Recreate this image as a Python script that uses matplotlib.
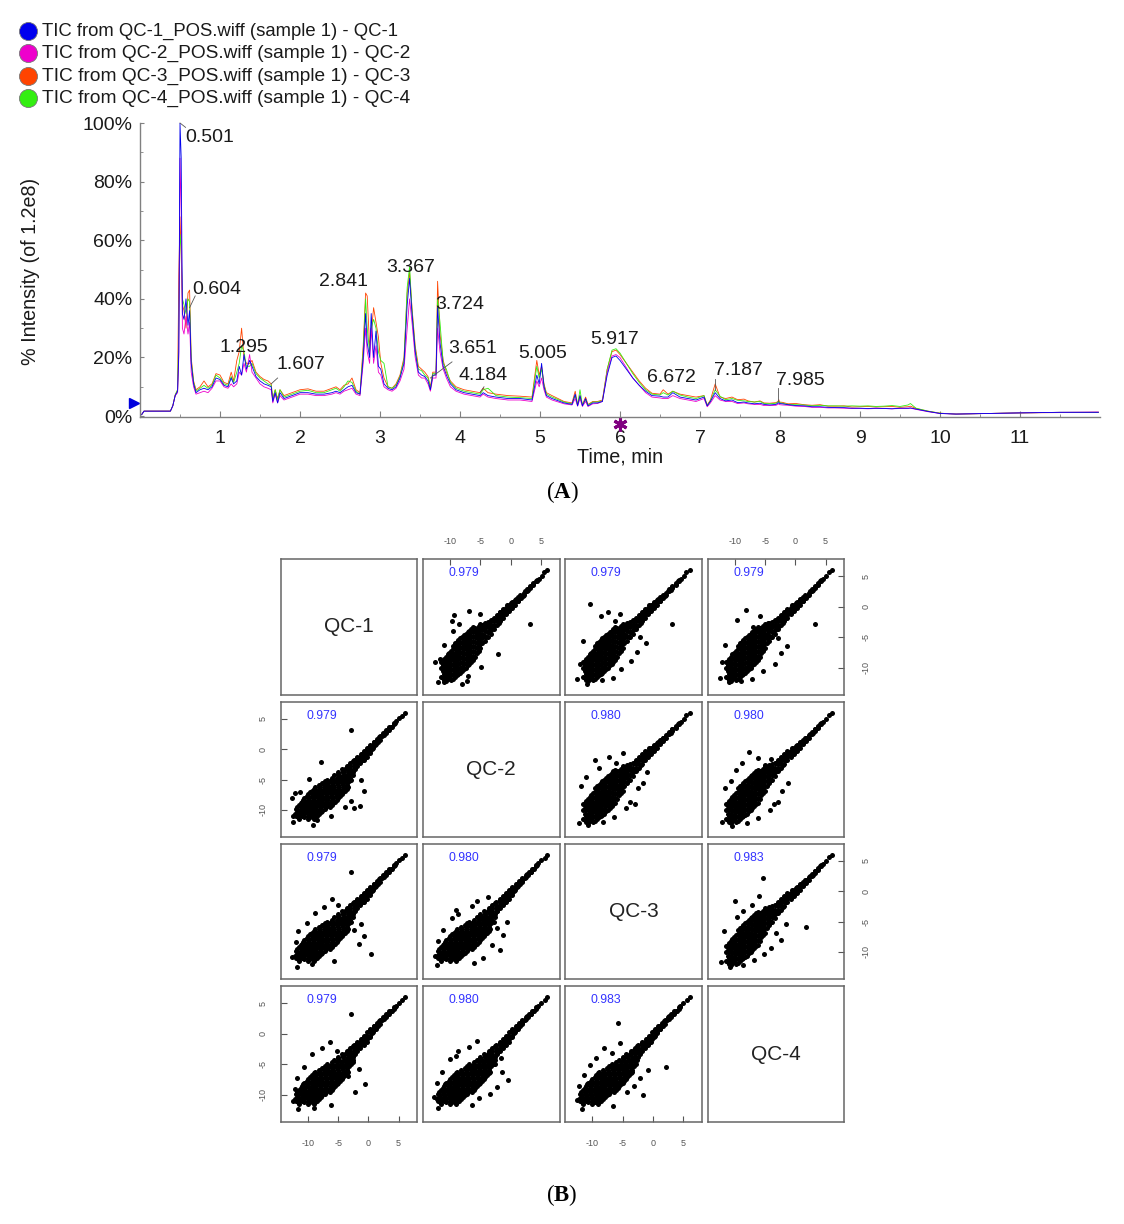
import matplotlib
matplotlib.use("Agg")
import matplotlib.pyplot as plt

plt.rcParams['font.family'] = ['Liberation Sans', 'DejaVu Sans']
plt.rcParams['mathtext.fontset'] = 'custom'
plt.rcParams['mathtext.bf'] = 'Liberation Serif:bold'
plt.rcParams['mathtext.rm'] = 'Liberation Serif'
plt.rcParams['axes.unicode_minus'] = False

W, H = 1124, 1224

# ---------- Panel A data ----------
legend_labels = ['TIC from QC-1_POS.wiff (sample 1) - QC-1',
                 'TIC from QC-2_POS.wiff (sample 1) - QC-2',
                 'TIC from QC-3_POS.wiff (sample 1) - QC-3',
                 'TIC from QC-4_POS.wiff (sample 1) - QC-4']
legend_sizes = [13.3, 13.8, 13.8, 13.8]
series_colors = ['#0000ee', '#ee00cc', '#ff4400', '#33ee11']

time_min = [0.02,0.05,0.38,0.41,0.44,0.47,0.485,0.50,0.515,0.53,
            0.55,0.575,0.60,0.62,0.64,0.67,0.70,0.75,0.80,0.85,
            0.90,0.95,1.00,1.05,1.10,1.14,1.17,1.21,1.24,1.27,
            1.30,1.33,1.37,1.40,1.45,1.50,1.55,1.60,1.64,1.66,
            1.69,1.72,1.75,1.80,1.90,2.00,2.10,2.20,2.30,2.40,
            2.45,2.50,2.55,2.60,2.65,2.70,2.75,2.79,2.82,2.84,
            2.87,2.89,2.92,2.95,2.98,3.01,3.05,3.10,3.15,3.20,
            3.25,3.30,3.34,3.37,3.40,3.44,3.48,3.52,3.56,3.60,
            3.63,3.66,3.70,3.72,3.75,3.79,3.83,3.88,3.95,4.05,
            4.15,4.25,4.29,4.35,4.45,4.60,4.75,4.90,4.96,4.99,
            5.02,5.05,5.08,5.15,5.30,5.40,5.44,5.47,5.50,5.53,
            5.57,5.60,5.66,5.72,5.78,5.84,5.90,5.95,6.00,6.08,
            6.16,6.24,6.32,6.40,6.50,6.54,6.60,6.66,6.75,6.85,
            6.95,7.05,7.09,7.13,7.19,7.25,7.32,7.40,7.47,7.55,
            7.60,7.68,7.75,7.80,7.87,7.95,7.975,7.985,7.995,8.03,
            8.1,8.2,8.3,8.4,8.5,8.6,8.7,8.8,8.9,9.0,
            9.1,9.2,9.3,9.4,9.5,9.6,9.63,9.7,9.85,10.0,
            10.2,10.6,11.0,11.5,11.98]

qc1 = [0.5,1.7,1.7,3.5,7.0,8.5,22,100,88,35,
       33,40,31,36,18,11,8,9,9.5,9,
       10,13,12.5,10.5,10,13,11,12,17,14,
       21,16,19,17,13.5,12,11,10.5,10,5,
       8,4.5,8,6,7,8,8,7.5,7.5,8,
       8.5,8,9,10,10.5,8,7.5,20,35,25,
       20,35,20,29,17,16,11,9.5,9,10,
       13,18,38,47,35,22,15,14,13.5,12,
       9,14,14,37,25,17,14,11,9,8,
       7.5,7,8,7,6.5,6,6,5.5,14,11,
       18,10,7,6,4.5,4,7.5,3.5,7,3.5,
       6,3.5,4.5,4.5,5,14,20,20.5,19,16,
       13,10.5,8.5,7,6.8,6.5,6.5,8,6.5,6,
       5.5,6.5,3.5,5,8,6,5.2,5.5,4.6,4.8,
       4.5,4.2,4.4,4,3.8,4,4.5,4.6,4.3,4.2,
       3.9,3.6,3.5,3.2,3.2,3,2.9,2.9,2.7,2.7,
       2.6,2.7,2.6,2.5,2.7,2.7,2.8,2.4,1.6,0.9,
       0.7,0.9,1.1,1.3,1.3]
qc2 = [0.5,1.7,1.7,3.5,7.0,8.0,20,88,70,30,
       28,34,28,32,15,10,7.5,8,8.5,8,
       9.5,12,12,10,9.5,11,10,11,15,14,
       18,15,21,15,13,11,10,9.5,9,4.5,
       7.5,4.5,7,5.5,6.5,7.5,7.5,7,7,7.5,
       8,7.5,8.5,9,9.5,7.5,7,18,30,22,
       18,30,18,24,15,14,10,9,8.5,9.5,
       12,16,30,40,32,20,14,13,13,11,
       8.5,13,13,30,22,16,13,10,8.5,7.5,
       7,6.5,7.5,6.5,6,5.5,5.5,5,12,10,
       13,9,6.5,5.5,4.2,3.8,6,3.4,6,3.3,
       5,3.3,4.2,4.3,5,15,20.5,21,20,16.5,
       13,10.5,8,6.5,6.2,6,6,7,6,5.5,
       5,6,3.2,4.5,7,5.5,5,5,4.3,4.5,
       4.2,4,4,3.6,3.6,3.7,4,4.3,3.9,3.8,
       3.7,3.4,3.3,3,3,2.8,2.8,2.7,2.6,2.6,
       2.5,2.6,2.6,2.5,2.6,2.6,2.7,2.3,1.5,0.9,
       0.7,0.9,1.1,1.3,1.4]
qc3 = [0.5,1.7,1.7,3.5,7.2,9.0,48,68,55,38,
       36,30,42,43,20,12,9,10,12,10,
       11,14.5,14,11.5,11,15,12,19,22,30,
       20,18,18,19,15,13.5,12.5,12,11,6,
       9,6,9,7,8,9,9.3,8.5,8.5,9.5,
       10,9,10.5,11,13,9,8,24,42,41,
       24,28,37,32,27,18,13,10,9.5,11,
       14,20,42,49,37,24,17,16,15,13.5,
       10,15,15,46,28,19,15,12,10,9,
       8.5,8,9.5,8,7.5,7,6.8,6.5,19,14,
       17,11,8,7,5,4.5,8.5,4,7,4,
       6.5,4,5,5,5.5,16,22,22.5,21,18,
       15,12,9.5,7.8,7.5,9,7.5,8.5,7.5,7,
       6.5,7,3.8,5.5,11,6.5,6,6.5,5.6,5.8,
       5.2,4.8,5.2,4.5,4.4,4.6,5,5.6,4.8,4.7,
       4.2,4.3,3.9,3.7,3.9,3.4,3.4,3.5,3.1,3.2,
       3.3,3.1,3.2,3.3,3.0,3.2,3.4,2.6,1.7,1,
       0.7,0.9,1.1,1.2,1.3]
qc4 = [0.5,1.7,1.7,3.6,7.2,9.0,30,62,58,40,
       38,35,40,39,19,11.5,8.5,9.5,10.5,9.5,
       10.5,14,13,11,10.5,13.5,11.5,15,18,24,
       22,17,17,18,14.5,13,12,11,10.5,5.5,
       9,5.5,9,6.5,7.5,8.5,8.8,8,8,9,
       9.5,8.5,10,12,11.5,8.5,7.5,22,40,30,
       22,30,33,30,22,19,18,10,9.5,10.5,
       13.5,19,44,51,36,23,16,15.5,14,13,
       9.5,14.5,14.5,40,32,18,16,11.5,9.5,8.5,
       8,7.5,9,9.5,7,6.5,6.3,6,17,13,
       16,10.5,7.5,6.5,4.8,4.2,7,3.8,9,3.8,
       5.5,3.8,4.8,4.8,5.2,16,22.5,23,21.5,18,
       14.5,11.5,9,7.5,7.2,8,7.2,8.5,7.2,6.5,
       6,7,3.6,5.2,9,6.8,5.6,6,5.4,5.2,
       5,4.8,5,4.3,4.2,4.4,4.8,5,4.6,4.4,
       4,3.9,3.8,3.5,3.7,3.5,3.5,3.4,3.5,3.4,
       3.5,3.3,3.4,3.6,3.3,3.8,4.3,2.7,1.7,1,
       0.7,0.9,1.1,1.3,1.3]

peak_labels = ['0.501','0.604','1.295','1.607','2.841','3.367','3.724',
               '3.651','4.184','5.005','5.917','6.672','7.187','7.985']
peak_text_x = [0.56,0.65,0.99,1.70,2.24,3.08,3.69,3.85,3.98,4.73,5.63,6.34,7.18,7.95]
peak_text_y = [95,43.3,23.5,17.7,46,50.8,38,22.9,14,21.5,26,13.3,15.7,12.3]

leader_x0 = [0.50,0.62,1.64,3.63,4.25,7.19,7.98]
leader_y0 = [100,37,11,13,8,9,5]
leader_x1 = [0.57,0.69,1.72,3.90,4.30,7.19,7.98]
leader_y1 = [98.5,41,13,18.5,10,12.5,9.5]

# ---------- Panel B data ----------
qc_names = ['QC-1','QC-2','QC-3','QC-4']
corr = [[None,'0.979','0.979','0.979'],
        ['0.979',None,'0.980','0.980'],
        ['0.979','0.980',None,'0.983'],
        ['0.979','0.980','0.983',None]]
pair_ticks = [-10,-5,0,5]

ridge_a = [6.0,5.5,5.1,4.6,4.1,3.7,3.2,2.9,2.4,2.0,1.6,1.2,0.8,0.5,0.1,-0.3,-0.6,-0.8,-1.2,
           -1.5,-1.7,-2.1,-2.0,-2.6,-2.7,-3.2,-3.2,-3.8,-3.7,-4.2,-4.0,-4.7,-4.6]
ridge_b = [6.0,5.6,5.0,4.5,4.2,3.7,3.4,2.7,2.6,1.8,1.9,1.0,1.2,0.2,0.6,-0.4,0.2,-1.0,-0.5,
           -1.8,-0.9,-1.5,-2.6,-2.0,-3.2,-2.3,-3.6,-2.9,-4.2,-3.5,-5.0,-3.7,-4.6]

blob_a = [-11.5,-11.5,-11.5,
          -11,-11,-11,-11,-11,
          -10.4,-10.4,-10.4,-10.4,-10.4,-10.4,
          -9.8,-9.8,-9.8,-9.8,-9.8,-9.8,-9.8,
          -9.2,-9.2,-9.2,-9.2,-9.2,-9.2,-9.2,-9.2,
          -8.6,-8.6,-8.6,-8.6,-8.6,-8.6,-8.6,-8.6,
          -8,-8,-8,-8,-8,-8,-8,-8,
          -7.4,-7.4,-7.4,-7.4,-7.4,-7.4,-7.4,-7.4,
          -6.8,-6.8,-6.8,-6.8,-6.8,-6.8,-6.8,-6.8,
          -6.2,-6.2,-6.2,-6.2,-6.2,-6.2,-6.2,-6.2,
          -5.6,-5.6,-5.6,-5.6,-5.6,-5.6,
          -5,-5,-5,-5,-5,-5]
blob_b = [-11.5,-10,-9,
          -12,-11,-10,-9.3,-8.5,
          -11.8,-11,-10.2,-9.4,-8.6,-7.8,
          -12,-11.2,-10.4,-9.6,-8.8,-8,-7.2,
          -11.5,-10.7,-9.9,-9.1,-8.3,-7.5,-6.7,-6,
          -11,-10.2,-9.4,-8.6,-7.8,-7,-6.2,-5.5,
          -10.6,-9.8,-9,-8.2,-7.4,-6.6,-5.8,-5,
          -10,-9.2,-8.4,-7.6,-6.8,-6,-5.2,-4.4,
          -9.4,-8.6,-7.8,-7,-6.2,-5.4,-4.6,-3.9,
          -8.8,-8,-7.2,-6.4,-5.6,-4.8,-4,-3.4,
          -7.6,-6.8,-6,-5.2,-4.4,-3.6,
          -6.8,-6,-5.2,-4.4,-3.6,-2.8]

fill_a = [-11.2,-11.2,-11.2,-11.2,
          -10.7,-10.7,-10.7,-10.7,-10.7,-10.7,
          -10.1,-10.1,-10.1,-10.1,-10.1,-10.1,
          -9.5,-9.5,-9.5,-9.5,-9.5,-9.5,-9.5,-9.5,
          -8.9,-8.9,-8.9,-8.9,-8.9,-8.9,-8.9,-8.9,
          -8.3,-8.3,-8.3,-8.3,-8.3,-8.3,-8.3,-8.3,
          -7.7,-7.7,-7.7,-7.7,-7.7,-7.7,-7.7,-7.7,
          -7.1,-7.1,-7.1,-7.1,-7.1,-7.1,-7.1,-7.1,
          -6.5,-6.5,-6.5,-6.5,-6.5,-6.5,-6.5,-6.5,
          -5.9,-5.9,-5.9,-5.9,-5.9,-5.9,-5.9,
          -5.3,-5.3,-5.3,-5.3,-5.3,-5.3,
          -4.7,-4.7,-4.7,-4.7,-4.7,
          -4.3,-4.3,-4.3,-4.3,-4.3,
          -3.8,-3.8,-3.8,-3.8,
          -3.3,-3.3,-3.3,-3.3,
          -2.8,-2.8,-2.8,-2.8,
          -2.3,-2.3,-2.3,-2.3,
          -1.8,-1.8,-1.8,-1.8,
          -1.3,-1.3,-1.3,-1.3,
          -0.8,-0.8,-0.8,
          -0.3,-0.3,-0.3,
          0.2,0.2,0.2,
          0.7,0.7,0.7,
          1.2,1.2,1.2,
          1.7,1.7,2.2,2.2,2.7,2.7,3.2,3.2,3.7,3.7,4.3,4.3]
fill_b = [-11.6,-10.6,-9.6,-8.9,
          -12.2,-11.4,-10.6,-9.8,-9,-8.2,
          -11.6,-10.8,-10,-9.2,-8.4,-7.6,
          -11.8,-11,-10.2,-9.4,-8.6,-7.8,-7,-6.4,
          -11.2,-10.4,-9.6,-8.8,-8,-7.2,-6.4,-5.8,
          -10.8,-10,-9.2,-8.4,-7.6,-6.8,-6,-5.2,
          -10.2,-9.4,-8.6,-7.8,-7,-6.2,-5.4,-4.7,
          -9.6,-8.8,-8,-7.2,-6.4,-5.6,-4.8,-4.2,
          -9,-8.2,-7.4,-6.6,-5.8,-5,-4.2,-3.6,
          -8.2,-7.4,-6.6,-5.8,-5,-4.2,-3.5,
          -7.2,-6.4,-5.6,-4.8,-4,-3.2,
          -6,-5.2,-4.4,-3.6,-3,
          -5.6,-4.8,-4,-3.2,-2.6,
          -5,-4.2,-3.4,-2.5,
          -4.4,-3.8,-3,-2.2,
          -3.6,-3,-2.4,-1.8,
          -3,-2.4,-1.8,-1.3,
          -2.4,-1.8,-1.2,-0.8,
          -1.8,-1.3,-0.8,-0.3,
          -1.2,-0.7,-0.2,
          -0.7,-0.2,0.3,
          -0.2,0.2,0.7,
          0.3,0.7,1.1,
          0.9,1.3,1.6,
          1.4,1.8,1.9,2.3,2.5,2.9,3.0,3.3,3.5,3.9,4.2,4.4]

# outliers: a = column variable in the upper panel, b = row variable
out_12_a = [-9.3,-9.7,-8.45,-9.45,-6.85,-5.05,3.18,-10.95,-2.05,-4.9,-7,-7.2,-8,-10.95,-12,-12.45,-11.65]
out_12_b = [-1.4,-2.4,-2.9,-3.9,-0.77,-1.15,-2.85,-6.25,-7.75,-9.8,-11.3,-12.2,-12.7,-12.4,-12.4,-9.1,-8.5]
out_13_a = [-10.3,-8.6,-7.4,-6.3,-5.4,3.2,-11.5,-2.6,-3.6,-5.2,-6.6,-8.4,-10.8,-12.4,-12.0,-1.2,-2.2]
out_13_b = [0.4,-1.6,-0.8,-2.4,-1.2,-2.9,-5.6,-7.4,-8.9,-10.2,-11.6,-12.0,-12.6,-11.8,-9.4,-6.0,-5.0]
out_14_a = [-9.6,-8.2,-7.0,-5.8,-4.6,3.2,-11.6,-2.4,-3.4,-5.4,-7.2,-9.0,-11.0,-12.4,-12.2,-1.4,-2.8]
out_14_b = [-2.2,-0.6,-3.4,-1.6,-2.6,-2.9,-6.2,-7.6,-9.4,-10.6,-11.8,-12.2,-12.4,-11.6,-9.0,-6.4,-5.2]
out_23_a = [-9.6,-8.8,-7.2,-6.0,-2.4,-1.6,-11.8,-3.8,-4.4,-6.4,-8.2,-10.6,-12.2,-3.0,-1.0,-11.0,-5.0]
out_23_b = [-1.8,-3.0,-1.2,-2.2,-6.4,-5.6,-6.0,-8.6,-9.6,-11.2,-12.0,-12.4,-12.2,-9.0,-3.8,-4.6,-0.6]
out_24_a = [-8.8,-7.6,-6.2,-5.0,-2.2,-1.2,-11.6,-3.6,-4.2,-6.2,-8.0,-10.4,-12.2,-2.8,-9.8,-10.6,-4.0]
out_24_b = [-2.2,-0.4,-1.4,-2.6,-6.8,-5.6,-6.4,-9.0,-10.0,-11.4,-12.2,-12.6,-12.0,-8.6,-3.4,-5.2,-1.6]
out_34_a = [-10.0,-8.6,-7.2,-5.4,-3.2,-1.6,-11.8,-4.0,-5.2,-6.8,-8.6,-10.8,-12.3,-2.4,1.8,-9.6,-6.0]
out_34_b = [-1.6,-3.2,-2.2,2.2,-6.8,-5.4,-6.6,-9.4,-10.4,-11.4,-12.2,-12.4,-11.6,-8.0,-5.8,-4.2,-0.8]
outliers = {(0,1):(out_12_a,out_12_b),(0,2):(out_13_a,out_13_b),(0,3):(out_14_a,out_14_b),
            (1,2):(out_23_a,out_23_b),(1,3):(out_24_a,out_24_b),(2,3):(out_34_a,out_34_b)}

# ---------- helpers ----------
def axes_px(fig, x0, y0, x1, y1, **kw):
    return fig.add_axes([x0/W, 1-y1/H, (x1-x0)/W, (y1-y0)/H], **kw)

fig = plt.figure(figsize=(W/100, H/100), dpi=100, facecolor='white')

# ---------- Panel A ----------
ax = axes_px(fig, 140, 123, 1100, 417)
ax.set_xlim(0, 12)
ax.set_ylim(-0.3, 100)
for values, color in zip([qc3, qc4, qc2, qc1], [series_colors[i] for i in (2,3,1,0)]):
    ax.plot(time_min, values, color=color, lw=0.6, solid_joinstyle='round')
for sp in ('top','right'):
    ax.spines[sp].set_visible(False)
for sp in ('left','bottom'):
    ax.spines[sp].set_color('#808080')
    ax.spines[sp].set_linewidth(1.0)
ax.set_xticks(range(1,12))
ax.set_xticks([v+0.5 for v in range(0,12)], minor=True)
ax.set_yticks([0,20,40,60,80,100])
ax.set_yticklabels(['0%','20%','40%','60%','80%','100%'])
ax.set_yticks([10,30,50,70,90], minor=True)
ax.tick_params(axis='x', which='major', direction='in', length=4, color='#808080',
               labelsize=14, pad=9.5, labelcolor='#1a1a1a')
ax.tick_params(axis='x', which='minor', direction='in', length=2, color='#808080')
ax.tick_params(axis='y', which='major', direction='in', length=3, color='#808080',
               labelsize=14, pad=5.5, labelcolor='#1a1a1a')
ax.tick_params(axis='y', which='minor', direction='in', length=2, color='#808080')
for lx0, ly0, lx1, ly1 in zip(leader_x0, leader_y0, leader_x1, leader_y1):
    ax.plot([lx0, lx1], [ly0, ly1], color='#555555', lw=0.6, clip_on=False)
for s, tx, ty in zip(peak_labels, peak_text_x, peak_text_y):
    ax.text(tx, ty, s, fontsize=14, color='#1a1a1a', va='center', ha='left')
ax.plot([-0.07], [4.5], marker='>', color='#0000dd', ms=7, clip_on=False)
ax.plot([6.0], [-2.8], marker=(6, 2, 0), color='#800080', ms=10, mew=2.2, clip_on=False)

# overlay in pixel units for legend and figure-level text
ov = axes_px(fig, 0, 0, W, H)
ov.set_xlim(0, W); ov.set_ylim(H, 0); ov.axis('off'); ov.patch.set_alpha(0)
legend_y = [31, 53, 76, 98]
for y, s, c, fs in zip(legend_y, legend_labels, series_colors, legend_sizes):
    ov.plot([28], [y], 'o', ms=13, mfc=c, mec='#777777', mew=0.6)
    ov.text(42, y+0.5, s, fontsize=fs, va='center', ha='left', color='#1a1a1a')
ov.text(31, 271, '% Intensity (of 1.2e8)', fontsize=14.2, rotation=90, va='center', ha='center', color='#1a1a1a')
ov.text(620, 457, 'Time, min', fontsize=14.2, va='center', ha='center', color='#1a1a1a')
ov.text(562, 492.5, r'($\mathbf{A}$)', fontsize=16.5, family='Liberation Serif', va='center', ha='center', color='black')
ov.text(562, 1195.5, r'($\mathbf{B}$)', fontsize=16.5, family='Liberation Serif', va='center', ha='center', color='black')

# ---------- Panel B ----------
col_x = [(281,417),(423,559.5),(565,702),(708,844)]
row_y = [(559,695),(702,837),(844,979),(986,1122)]
core_a = ridge_a + blob_a + fill_a
core_b = ridge_b + blob_b + fill_b
for r in range(4):
    for c in range(4):
        a = axes_px(fig, col_x[c][0], row_y[r][0], col_x[c][1], row_y[r][1])
        a.set_xlim(-14.45, 8.05)
        a.set_ylim(-14.45, 7.8)
        for sp in a.spines.values():
            sp.set_color('#666666'); sp.set_linewidth(1.1)
        a.set_xticks([]); a.set_yticks([])
        if r == c:
            a.text(0.5, 0.5, qc_names[r], transform=a.transAxes, fontsize=15, ha='center', va='center', color='#222222')
        else:
            key = (min(r,c), max(r,c))
            oa, ob = outliers[key]
            xs = core_a + oa
            ys = core_b + ob
            if r > c:
                xs, ys = ys, xs
            a.scatter(xs, ys, s=13, color='black', linewidths=0, zorder=2)
            a.text(-7.7, 5.5, corr[r][c], fontsize=8.8, color='#3333ff', ha='center', va='center', zorder=3)
        tick_kw = dict(direction='in', length=4.3, width=0.8, color='#555555', labelsize=6.5,
                       labelcolor='#555555')
        if r == 0 and c in (1,3):
            a.set_xticks(pair_ticks)
            a.tick_params(axis='x', top=True, bottom=False, labeltop=True, labelbottom=False, pad=9.5, **tick_kw)
        if r == 3 and c in (0,2):
            a.set_xticks(pair_ticks)
            a.tick_params(axis='x', pad=12.5, **tick_kw)
        if c == 0 and r in (1,3):
            a.set_yticks(pair_ticks)
            a.tick_params(axis='y', pad=9.5, **tick_kw)
            for t in a.get_yticklabels():
                t.set_rotation(90); t.set_va('center')
        if c == 3 and r in (0,2):
            a.set_yticks(pair_ticks)
            a.tick_params(axis='y', left=False, right=True, labelleft=False, labelright=True, pad=12.5, **tick_kw)
            for t in a.get_yticklabels():
                t.set_rotation(90); t.set_va('center')

fig.savefig('out.png', dpi=100)
